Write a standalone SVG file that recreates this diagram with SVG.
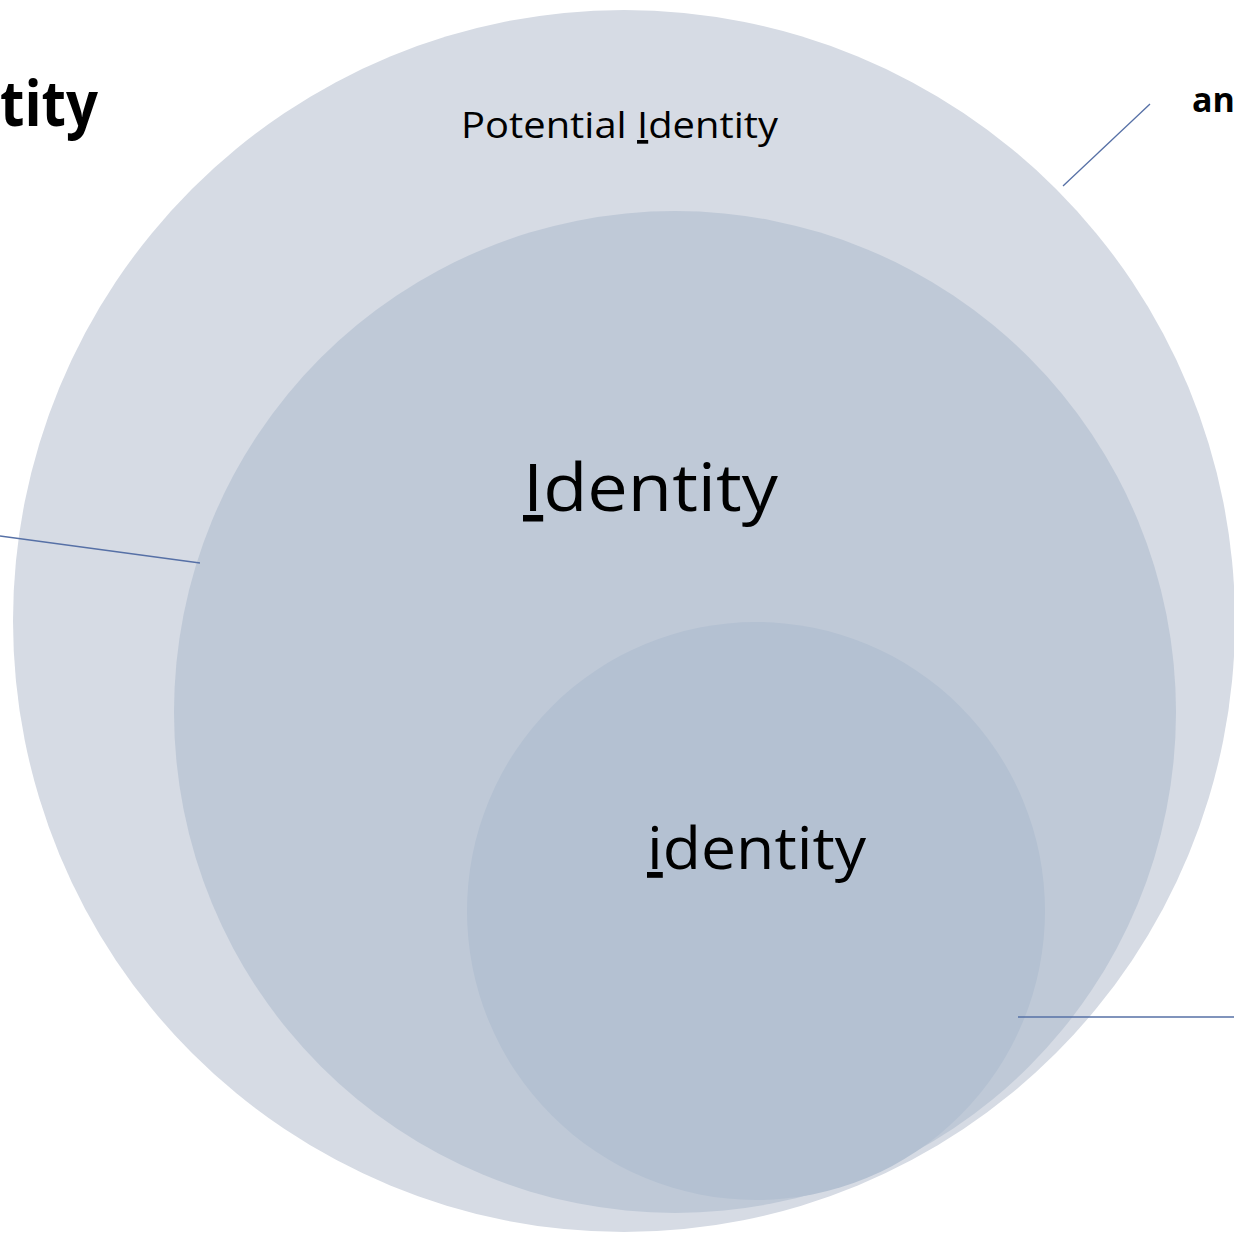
<svg xmlns="http://www.w3.org/2000/svg" width="1234" height="1235" viewBox="0 0 1234 1235">
<style>
.lbl{font-family:"Open Sans","Liberation Sans",sans-serif;fill:#000}
.b{font-weight:bold}
.con{stroke:#5670A6;stroke-width:1.3;fill:none}
</style>
<rect width="1234" height="1235" fill="#ffffff"/>
<g id="outer">
<circle cx="624" cy="621" r="611" fill="#D6DBE4"/>
<text class="lbl" x="461" y="138" font-size="37" textLength="317" lengthAdjust="spacingAndGlyphs">Potential <tspan text-decoration="underline">I</tspan>dentity</text>
</g>
<g id="middle">
<circle cx="675" cy="712" r="501" fill="#BFC9D7"/>
<text class="lbl" x="523" y="511" font-size="65" textLength="255" lengthAdjust="spacingAndGlyphs"><tspan text-decoration="underline">I</tspan>dentity</text>
</g>
<g id="inner">
<circle cx="756" cy="911" r="289" fill="#B4C1D2"/>
<text class="lbl" x="647" y="869" font-size="58" textLength="219" lengthAdjust="spacingAndGlyphs"><tspan text-decoration="underline">i</tspan>dentity</text>
</g>
<g id="label-left">
<text class="lbl b" x="0" y="126" font-size="62" textLength="98" lengthAdjust="spacingAndGlyphs">tity</text>
</g>
<g id="label-right">
<text class="lbl b" x="1192" y="112" font-size="34">an</text>
</g>
<g id="connectors">
<line class="con" x1="1063" y1="186" x2="1150" y2="104"/>
<line class="con" x1="0" y1="536" x2="200" y2="563"/>
<line class="con" x1="1018" y1="1017" x2="1234" y2="1017"/>
</g>
</svg>
